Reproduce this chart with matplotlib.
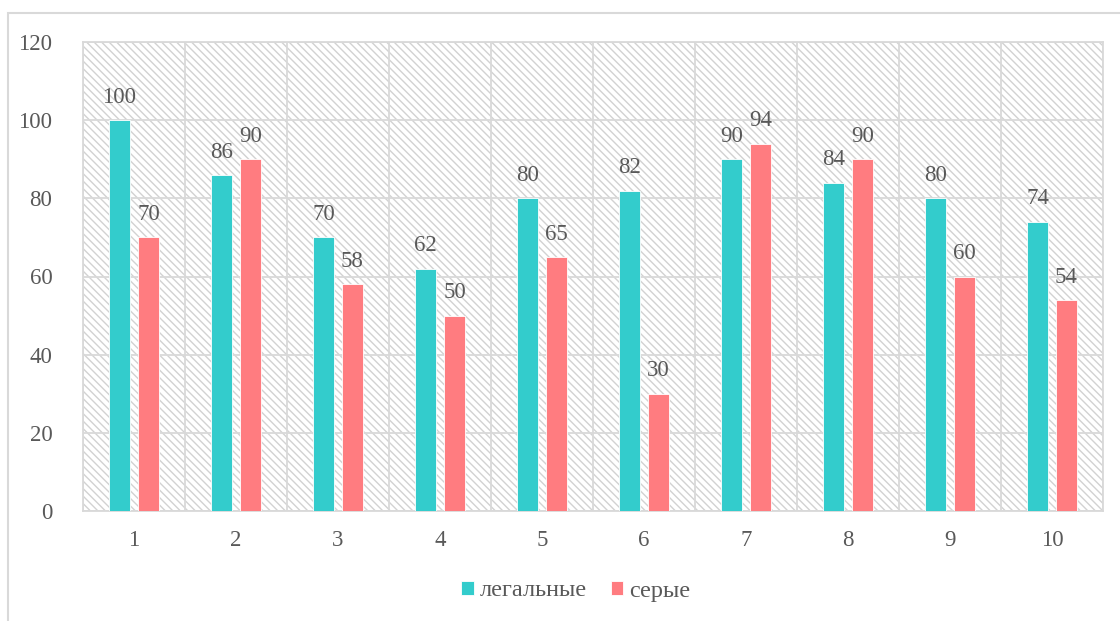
import matplotlib
matplotlib.use("Agg")
import matplotlib.pyplot as plt
import numpy as np
from matplotlib.collections import LineCollection
from matplotlib.patches import Rectangle
from matplotlib import transforms

categories = ["1", "2", "3", "4", "5", "6", "7", "8", "9", "10"]
legal = [100, 86, 70, 62, 80, 82, 90, 84, 80, 74]
grey = [70, 90, 58, 50, 65, 30, 94, 90, 60, 54]
series_names = ["легальные", "серые"]
yticks = [0, 20, 40, 60, 80, 100, 120]

C_LEGAL = "#33CCCC"
C_GREY = "#FF7C80"
TXT = "#595959"
GRID = "#d9d9d9"
FONT = "Liberation Serif"

W, H = 1120, 621
fig = plt.figure(figsize=(W / 100, H / 100), dpi=100)
fig.patch.set_facecolor("white")

# outer chart border (clipped right/bottom like the reference)
fig.add_artist(Rectangle((8 / W, -0.05), 1.2, (H - 13) / H + 0.05,
                         transform=fig.transFigure, fill=False,
                         edgecolor=GRID, linewidth=1.5))

ax_l, ax_r, ax_t, ax_b = 83, 1103, 42, 511
ax = fig.add_axes([ax_l / W, (H - ax_b) / H, (ax_r - ax_l) / W, (ax_b - ax_t) / H])
ax.set_facecolor("white")

# diagonal pattern background
x0, x1 = ax_l, ax_r
y0, y1 = H - ax_b, H - ax_t
segs = []
for c in np.arange(x0 + y0, x1 + y1 + 8, 7.5):
    segs.append([(c - y1, y1), (c - y0, y0)])
lc = LineCollection(segs, colors="#d2d2d2", linewidths=1.0,
                    transform=transforms.IdentityTransform(), zorder=0.5)
ax.add_collection(lc)
lc.set_clip_path(ax.patch)

x = np.arange(1, len(categories) + 1)
bw = 0.2
off = 0.142
b1 = ax.bar(x - off, legal, bw, color=C_LEGAL, edgecolor="white", linewidth=0.6,
            label=series_names[0], zorder=3)
b2 = ax.bar(x + off, grey, bw, color=C_GREY, edgecolor="white", linewidth=0.6,
            label=series_names[1], zorder=3)

for bars, vals in ((b1, legal), (b2, grey)):
    for b, v in zip(bars, vals):
        ax.annotate(str(v), (b.get_x() + b.get_width() / 2, v),
                    xytext=(0, 12.5), textcoords="offset points",
                    ha="center", va="baseline", fontsize=16.5,
                    color=TXT, family=FONT, zorder=4)

ax.set_xlim(0.5, len(categories) + 0.5)
ax.set_ylim(0, 120)
ax.set_yticks(yticks)
ax.set_xticks(x)
ax.set_xticklabels(categories)
ax.set_xticks(np.arange(0.5, len(categories) + 1, 1), minor=True)
ax.grid(True, which="major", axis="y", color=GRID, linewidth=1.3, zorder=1)
ax.grid(True, which="minor", axis="x", color=GRID, linewidth=1.3, zorder=1)
ax.set_axisbelow(True)
ax.tick_params(which="both", length=0)
ax.tick_params(axis="y", pad=22, labelsize=16.5, labelcolor=TXT)
ax.tick_params(axis="x", pad=14, labelsize=16.5, labelcolor=TXT)
for lab in ax.get_xticklabels() + ax.get_yticklabels():
    lab.set_family(FONT)
for s in ax.spines.values():
    s.set_color(GRID)
    s.set_linewidth(1.3)

leg = fig.legend(handles=[b1, b2], labels=series_names, loc="center",
                 bbox_to_anchor=(576 / W, 30 / H), ncol=2, frameon=False,
                 prop={"family": FONT, "size": 17.5}, handlelength=0.5,
                 handleheight=0.5, handletextpad=0.25, columnspacing=1.0)
for t in leg.get_texts():
    t.set_color(TXT)

fig.savefig("out.png", dpi=100, facecolor="white")
